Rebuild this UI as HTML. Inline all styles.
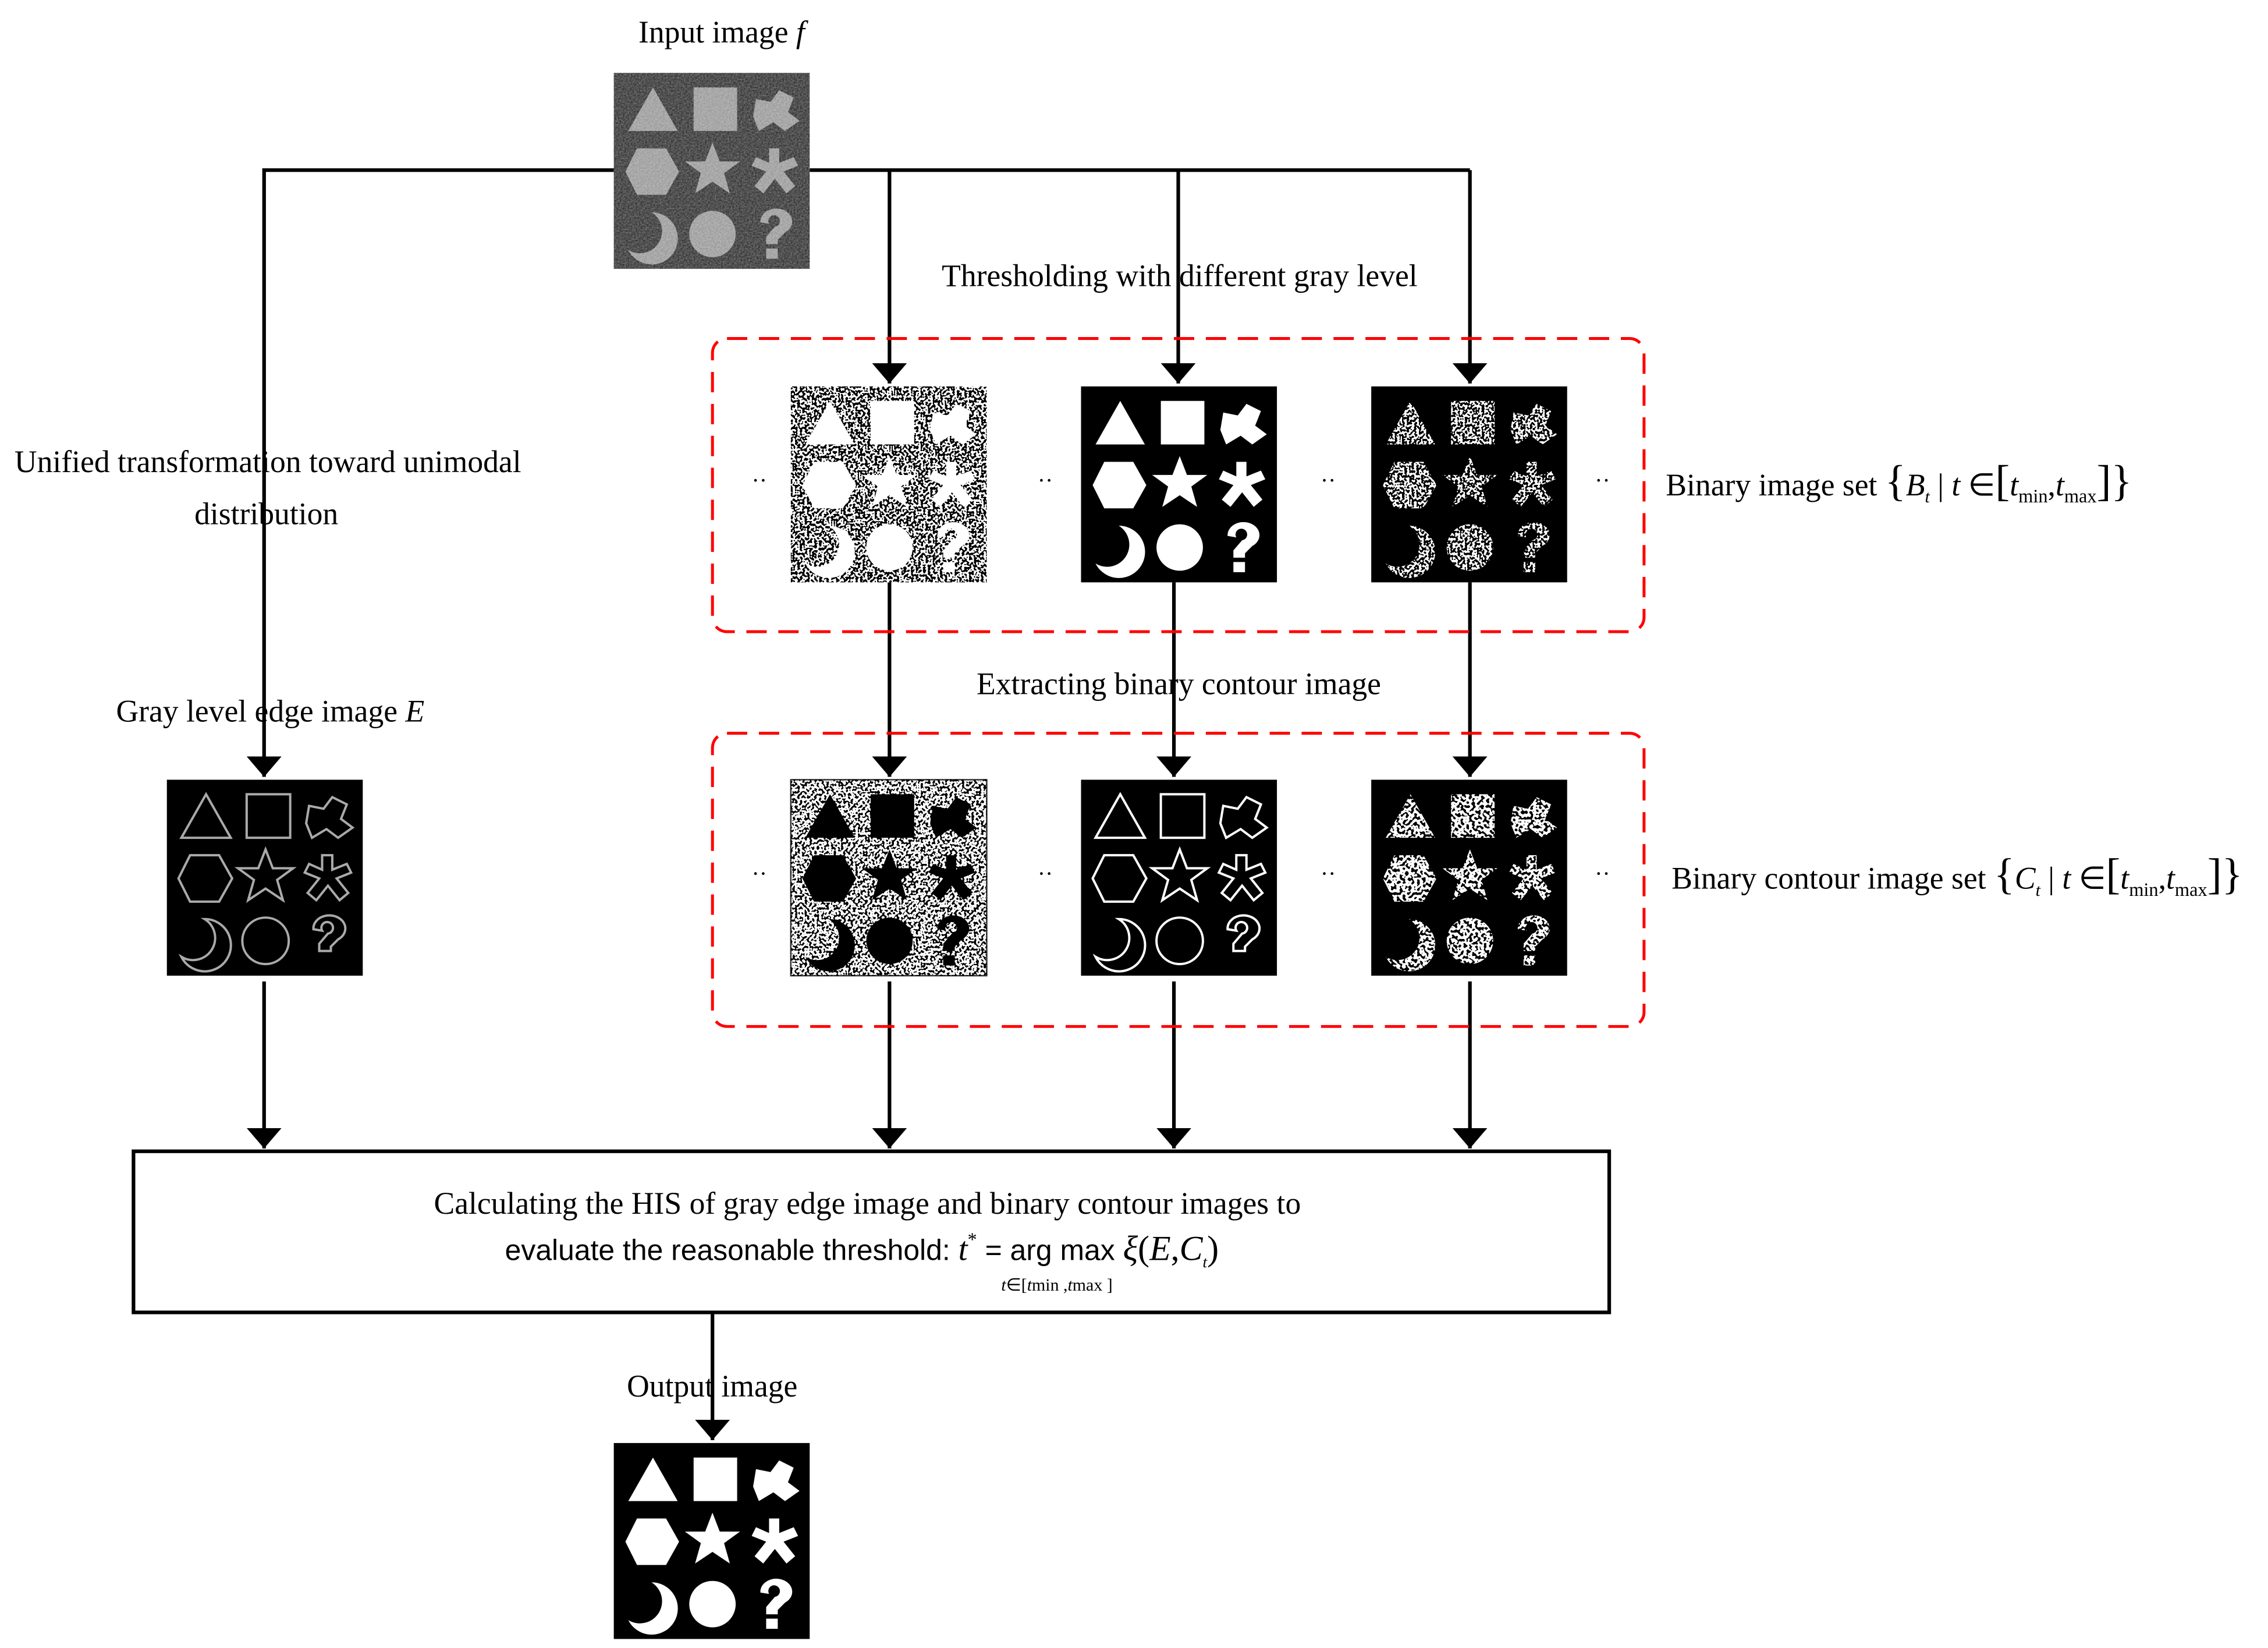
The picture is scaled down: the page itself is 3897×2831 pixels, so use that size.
<!DOCTYPE html>
<html><head><meta charset="utf-8"><style>
html,body{margin:0;padding:0;background:#fff;}
svg{display:block}
text{font-family:"Liberation Serif",serif;fill:#000}
</style></head><body>
<svg width="3897" height="2831" viewBox="0 0 1563 1135" xmlns="http://www.w3.org/2000/svg">
<defs>
<g id="sh">
<polygon points="27,10 44,40 10,40"/>
<rect x="55" y="10" width="30" height="30"/>
<path d="M98,18 L108,20 L114,12 L124,17 L120,27 L128,33 L118,40 L110,34 L100,40 L96,30 Z"/>
<polygon points="16,52 36,52 45,68 36,84 16,84 8,68"/>
<polygon points="68,48 73,61 87,61 76,69 80,83 68,75 56,83 60,69 49,61 63,61"/>
<path d="M107,52 L114,52 L114,62 L124,58 L127,64 L117,68 L125,78 L119,83 L111,73 L103,83 L97,78 L105,68 L95,64 L98,58 L107,62 Z"/>
<path d="M26,96 A18,18 0 1 1 10,122 A15,15 0 0 0 26,96 Z"/>
<circle cx="68" cy="111" r="16"/>
<path d="M101,103 A11,9 0 1 1 118,110 L113,115 L113,118 L105,118 L105,113 L111,106 A4,4 0 1 0 107,104 Z"/>
<rect x="105" y="121" width="8" height="7"/>
</g>
<g id="so" fill="none" stroke-width="1.6">
<polygon points="27,10 44,40 10,40"/>
<rect x="55" y="10" width="30" height="30"/>
<path d="M98,18 L108,20 L114,12 L124,17 L120,27 L128,33 L118,40 L110,34 L100,40 L96,30 Z"/>
<polygon points="16,52 36,52 45,68 36,84 16,84 8,68"/>
<polygon points="68,48 73,61 87,61 76,69 80,83 68,75 56,83 60,69 49,61 63,61"/>
<path d="M107,52 L114,52 L114,62 L124,58 L127,64 L117,68 L125,78 L119,83 L111,73 L103,83 L97,78 L105,68 L95,64 L98,58 L107,62 Z"/>
<path d="M26,96 A18,18 0 1 1 10,122 A15,15 0 0 0 26,96 Z"/>
<circle cx="68" cy="111" r="16"/>
<path d="M101,103 A11,9 0 1 1 118,110 L113,115 L113,118 L105,118 L105,113 L111,106 A4,4 0 1 0 107,104 Z"/>
</g>
<mask id="mk" maskUnits="userSpaceOnUse" x="0" y="0" width="135" height="135"><rect width="135" height="135" fill="#000"/><g fill="#fff"><use href="#sh"/></g></mask>
<filter id="nz" x="0" y="0" width="1" height="1"><feTurbulence type="fractalNoise" baseFrequency="0.6" seed="4"/><feColorMatrix type="matrix" values="0 0 0 0 1 0 0 0 0 1 0 0 0 0 1 3 0 0 0 -1"/><feComponentTransfer><feFuncA type="discrete" tableValues="0 1"/></feComponentTransfer></filter>
<filter id="nz2" x="0" y="0" width="1" height="1"><feTurbulence type="fractalNoise" baseFrequency="0.5" seed="7"/><feColorMatrix type="matrix" values="0 0 0 0 1 0 0 0 0 1 0 0 0 0 1 3 0 0 0 -0.9"/><feComponentTransfer><feFuncA type="discrete" tableValues="0 1"/></feComponentTransfer></filter>
<filter id="nzb" x="0" y="0" width="1" height="1"><feTurbulence type="fractalNoise" baseFrequency="0.6" seed="9"/><feColorMatrix type="matrix" values="0 0 0 0 0 0 0 0 0 0 0 0 0 0 0 3 0 0 0 -1.1"/><feComponentTransfer><feFuncA type="discrete" tableValues="0 1"/></feComponentTransfer></filter>
<filter id="gn" x="0" y="0" width="1" height="1"><feTurbulence type="fractalNoise" baseFrequency="0.9" seed="2"/><feColorMatrix type="matrix" values="0 0 0 0 1 0 0 0 0 1 0 0 0 0 1 0.9 0 0 0 -0.2"/></filter>
<marker id="ar" viewBox="0 0 14 30" refX="14" refY="15" markerWidth="14" markerHeight="30" markerUnits="userSpaceOnUse" orient="auto"><path d="M0,3 L14,15 L0,27 Z" fill="#000"/></marker>
</defs>

<g stroke="#000" stroke-width="2.5" fill="none">
<polyline points="423,117 182,117 182,535" marker-end="url(#ar)"/>
<polyline points="558,117 1013,117"/>
<line x1="613" y1="117" x2="613" y2="264" marker-end="url(#ar)"/>
<line x1="812" y1="117" x2="812" y2="264" marker-end="url(#ar)"/>
<line x1="1013" y1="117" x2="1013" y2="264" marker-end="url(#ar)"/>
<line x1="613" y1="401" x2="613" y2="535" marker-end="url(#ar)"/>
<line x1="809" y1="401" x2="809" y2="535" marker-end="url(#ar)"/>
<line x1="1013" y1="401" x2="1013" y2="535" marker-end="url(#ar)"/>
<line x1="182" y1="676" x2="182" y2="791" marker-end="url(#ar)"/>
<line x1="613" y1="676" x2="613" y2="791" marker-end="url(#ar)"/>
<line x1="809" y1="676" x2="809" y2="791" marker-end="url(#ar)"/>
<line x1="1013" y1="676" x2="1013" y2="791" marker-end="url(#ar)"/>
<line x1="491" y1="904" x2="491" y2="992" marker-end="url(#ar)"/>
</g>
<rect x="92" y="793" width="1017" height="111" fill="none" stroke="#000" stroke-width="2.5"/>

<g fill="none" stroke="#f00" stroke-width="2" stroke-dasharray="14,8">
<rect x="491" y="233" width="642" height="202" rx="10"/>
<rect x="491" y="505" width="642" height="202" rx="10"/>
</g>

<g transform="translate(423,50)">
<rect width="135" height="135" fill="#333"/>
<g fill="#999"><use href="#sh"/></g>
<rect width="135" height="135" filter="url(#gn)" opacity="0.6"/>
</g>
<g transform="translate(545,266)">
<rect width="135" height="135" fill="#000"/>
<rect width="135" height="135" filter="url(#nz)"/>
<g fill="#fff"><use href="#sh"/></g>
</g>
<g transform="translate(745,266)"><rect width="135" height="135" fill="#000"/><g fill="#fff"><use href="#sh"/></g></g>
<g transform="translate(945,266)">
<rect width="135" height="135" fill="#000"/>
<g mask="url(#mk)"><rect width="135" height="135" filter="url(#nz)"/></g>
</g>
<g transform="translate(545,537)">
<rect width="135" height="135" fill="#fff" stroke="#333"/>
<rect width="135" height="135" filter="url(#nzb)"/>
<g fill="#000"><use href="#sh"/></g>
</g>
<g transform="translate(745,537)"><rect width="135" height="135" fill="#000"/><g stroke="#fff"><use href="#so"/></g></g>
<g transform="translate(945,537)">
<rect width="135" height="135" fill="#000"/>
<g mask="url(#mk)"><rect width="135" height="135" filter="url(#nz2)"/></g>
</g>
<g transform="translate(115,537)"><rect width="135" height="135" fill="#000"/><g stroke="#aaa"><use href="#so"/></g></g>
<g transform="translate(423,994)"><rect width="135" height="135" fill="#000"/><g fill="#fff"><use href="#sh"/></g></g>

<g font-size="16">
<text x="518" y="336">··</text><text x="715" y="336">··</text><text x="910" y="336">··</text><text x="1099" y="336">··</text>
<text x="518" y="607">··</text><text x="715" y="607">··</text><text x="910" y="607">··</text><text x="1099" y="607">··</text>
</g>

<g font-size="21.5">
<text x="440" y="29">Input image <tspan font-style="italic">f</tspan></text>
<text x="649" y="197">Thresholding with different gray level</text>
<text x="10" y="325">Unified transformation toward unimodal</text>
<text x="134" y="361">distribution</text>
<text x="673" y="478">Extracting binary contour image</text>
<text x="80" y="497">Gray level edge image <tspan font-style="italic">E</tspan></text>
<text x="1148" y="341">Binary image set <tspan font-size="30">{</tspan><tspan font-style="italic">B</tspan><tspan font-size="12" font-style="italic" dy="5">t</tspan><tspan dy="-5"> | </tspan><tspan font-style="italic">t</tspan> ∈<tspan font-size="30">[</tspan><tspan font-style="italic">t</tspan><tspan font-size="13" dy="5">min</tspan><tspan dy="-5">,</tspan><tspan font-style="italic">t</tspan><tspan font-size="13" dy="5">max</tspan><tspan font-size="30" dy="-5">]}</tspan></text>
<text x="1152" y="612">Binary contour image set <tspan font-size="30">{</tspan><tspan font-style="italic">C</tspan><tspan font-size="12" font-style="italic" dy="5">t</tspan><tspan dy="-5"> | </tspan><tspan font-style="italic">t</tspan> ∈<tspan font-size="30">[</tspan><tspan font-style="italic">t</tspan><tspan font-size="13" dy="5">min</tspan><tspan dy="-5">,</tspan><tspan font-style="italic">t</tspan><tspan font-size="13" dy="5">max</tspan><tspan font-size="30" dy="-5">]}</tspan></text>
<text x="299" y="836">Calculating the HIS of gray edge image and binary contour images to</text>
<text x="348" y="868" font-size="20"><tspan font-family="Liberation Sans, sans-serif">evaluate the reasonable threshold: </tspan><tspan font-style="italic" font-size="23">t</tspan><tspan font-size="13" dy="-10">*</tspan><tspan dy="10" font-family="Liberation Sans, sans-serif"> = arg max </tspan><tspan font-style="italic" font-size="24">ξ</tspan><tspan font-size="24">(</tspan><tspan font-style="italic" font-size="24">E</tspan><tspan font-size="24">,</tspan><tspan font-style="italic" font-size="24">C</tspan><tspan font-size="11" font-style="italic" dy="5">t</tspan><tspan font-size="24" dy="-5">)</tspan></text>
<text x="690" y="889" font-size="12"><tspan font-style="italic">t</tspan>∈[<tspan font-style="italic">t</tspan>min ,<tspan font-style="italic">t</tspan>max ]</text>
<text x="432" y="962">Output image</text>
</g>
</svg>
</body></html>
